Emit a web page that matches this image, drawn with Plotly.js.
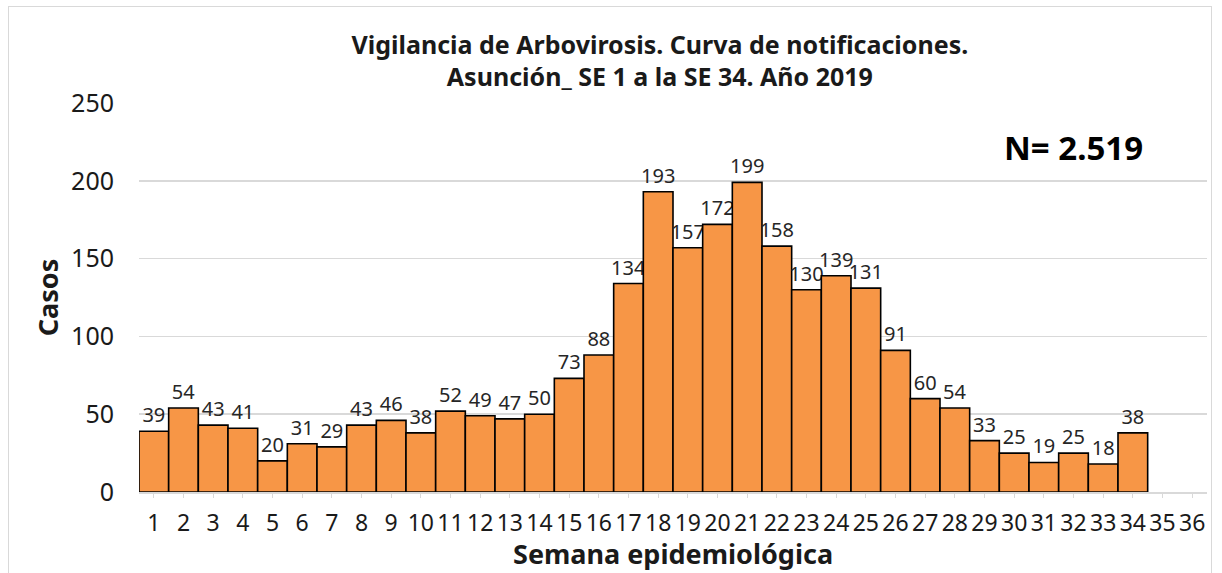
<!DOCTYPE html>
<html>
<head>
<meta charset="utf-8">
<script src="https://cdn.plot.ly/plotly-3.0.1.min.js"></script>
<style>
  html, body { margin: 0; padding: 0; background: #fff; overflow: hidden; }
  #chart { width: 1222px; height: 573px; }
  #frame { position: absolute; left: 8px; top: 6px; width: 1202px; height: 600px;
           border: 1.5px solid #d9d9d9; pointer-events: none; }
</style>
</head>
<body>
<div id="chart"></div>
<div id="frame"></div>
<script>
const weeks = [1,2,3,4,5,6,7,8,9,10,11,12,13,14,15,16,17,18,19,20,21,22,23,24,25,26,27,28,29,30,31,32,33,34];
const cases = [39,54,43,41,20,31,29,43,46,38,52,49,47,50,73,88,134,193,157,172,199,158,130,139,131,91,60,54,33,25,19,25,18,38];
const tickWeeks = [1,2,3,4,5,6,7,8,9,10,11,12,13,14,15,16,17,18,19,20,21,22,23,24,25,26,27,28,29,30,31,32,33,34,35,36];
const yTicks = [0,50,100,150,200,250];
const titleText = "Vigilancia de Arbovirosis. Curva de notificaciones.<br>Asunción_ SE 1 a la SE 34. Año 2019";
const xTitleText = "Semana epidemiológica";
const yTitleText = "Casos";
const totalText = "N= 2.519";

const FONT = "Noto Sans, Open Sans, sans-serif";

const trace = {
  type: 'bar',
  x: weeks,
  y: cases,
  text: cases.map(String),
  textposition: 'outside',
  constraintext: 'none',
  cliponaxis: false,
  textfont: { family: FONT, size: 20, color: '#262626' },
  marker: { color: '#F79646', line: { color: '#000000', width: 1.6 } },
  hoverinfo: 'x+y'
};

const layout = {
  width: 1222, height: 573,
  margin: { l: 139, r: 15, t: 103, b: 81, pad: 0 },
  paper_bgcolor: '#ffffff', plot_bgcolor: '#ffffff',
  bargap: 0,
  showlegend: false,
  font: { family: FONT, color: '#1a1a1a' },
  title: {
    text: titleText,
    font: { family: FONT, size: 25, color: '#1a1a1a', weight: 'bold' },
    x: 0.54, xanchor: 'center', y: 0.906, yanchor: 'top'
  },
  xaxis: {
    range: [0.5, 36.5],
    tickmode: 'array', tickvals: tickWeeks, ticktext: tickWeeks.map(String),
    tickfont: { family: FONT, size: 23, color: '#1a1a1a' },
    tickangle: 0,
    showgrid: false, zeroline: false,
    showline: true, linecolor: '#d9d9d9', linewidth: 1.5,
    ticks: 'outside', ticklen: 4, tickcolor: '#d9d9d9',
    ticklabelstandoff: 6
  },
  yaxis: {
    range: [0, 250],
    tickmode: 'array', tickvals: yTicks,
    tickfont: { family: FONT, size: 25, color: '#1a1a1a' },
    showgrid: true, gridcolor: '#d9d9d9', gridwidth: 1.5,
    zeroline: false, showline: false,
    ticks: '', ticklabelstandoff: 24,
    title: { text: yTitleText, font: { family: FONT, size: 27, color: '#1a1a1a', weight: 'bold' }, standoff: 4 }
  },
  annotations: [
    {
      text: totalText, showarrow: false,
      xref: 'paper', yref: 'paper', x: 0.875, y: 0.885, xanchor: 'center', yanchor: 'middle',
      font: { family: FONT, size: 33, color: '#000000', weight: 'bold' }
    },
    {
      text: xTitleText, showarrow: false,
      xref: 'paper', yref: 'paper', x: 0.5, y: 0, xanchor: 'center', yanchor: 'top', yshift: -42,
      borderpad: 0,
      font: { family: FONT, size: 27, color: '#1a1a1a', weight: 'bold' }
    }
  ]
};

Plotly.newPlot('chart', [trace], layout, { displayModeBar: false, staticPlot: true });
</script>
</body>
</html>
